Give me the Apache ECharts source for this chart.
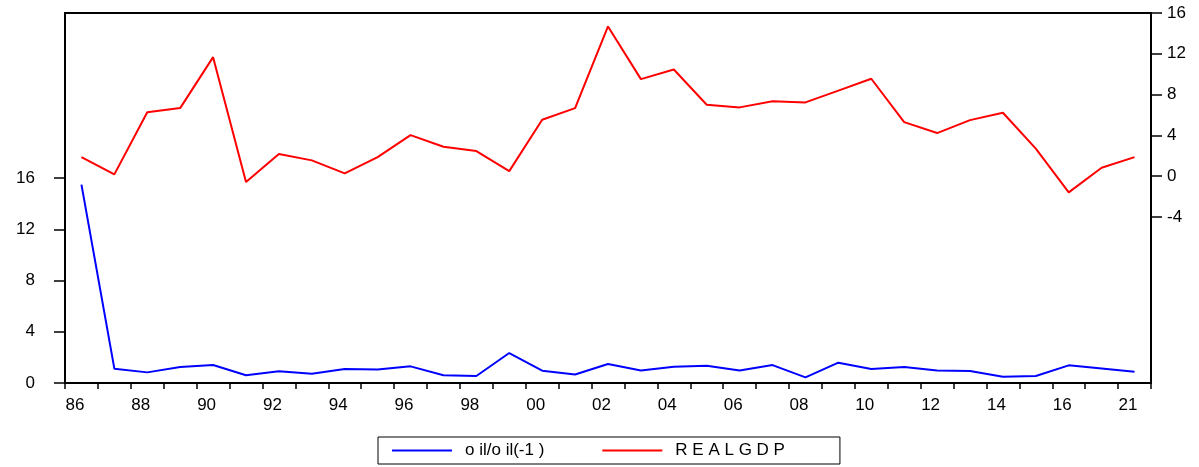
<!DOCTYPE html>
<html>
<head>
<meta charset="utf-8">
<script src="https://cdn.jsdelivr.net/npm/echarts@6/dist/echarts.min.js"></script>
<style>
html,body{margin:0;padding:0;background:#fff;}
#chart{width:1199px;height:467px;}
</style>
</head>
<body>
<div id="chart"></div>
<script>
const categories = ['86','87','88','89','90','91','92','93','94','95','96','97','98','99','00','01','02','03','04','05','06','07','08','09','10','11','12','13','14','15','16','20','21'];
const oilRatio = [15.5,1.12,0.83,1.25,1.4,0.6,0.91,0.73,1.09,1.06,1.3,0.6,0.55,2.34,0.96,0.67,1.48,0.98,1.27,1.35,0.98,1.4,0.44,1.59,1.09,1.25,0.98,0.94,0.49,0.55,1.38,1.14,0.88];
const realGdp = [1.86,0.17,6.27,6.67,11.67,-0.59,2.16,1.54,0.26,1.86,4.02,2.88,2.45,0.49,5.53,6.67,14.68,9.51,10.46,7.0,6.74,7.35,7.23,8.39,9.55,5.29,4.22,5.49,6.21,2.69,-1.6,0.82,1.86];
const leftTicks = [0,4,8,12,16];
const rightTicks = [-4,0,4,8,12,16];
const seriesNames = ['o il/o il(-1 )','R E A L G D P'];

const font = "'Liberation Sans', Arial, sans-serif";
const chart = echarts.init(document.getElementById('chart'), null, {renderer:'canvas'});
chart.setOption({
  animation:false,
  backgroundColor:'#fff',
  grid:{left:65,right:48,top:13,bottom:84,show:true,borderColor:'#000',borderWidth:2,backgroundColor:'transparent'},
  legend:{
    left:378, top:437, orient:'horizontal',
    itemWidth:60, itemHeight:2, icon:'rect', itemGap:58,
    borderColor:'#000', borderWidth:1, padding:[5,55,5,14],
    textStyle:{fontSize:17,color:'#000',fontFamily:font,padding:[0,0,0,8]},
    data:seriesNames
  },
  xAxis:{
    type:'category', data:categories, boundaryGap:true,
    axisLine:{show:true,lineStyle:{color:'#000',width:2}},
    axisTick:{show:true,interval:0,length:6,lineStyle:{color:'#000',width:1.5}},
    axisLabel:{interval:1,hideOverlap:false,margin:14,fontSize:17,color:'#000',fontFamily:font,padding:[0,13,0,0]},
    splitLine:{show:false}
  },
  yAxis:[
    {
      type:'value', position:'left', min:0, max:28.9,
      axisLine:{show:true,lineStyle:{color:'#000',width:2}},
      axisTick:{show:true,length:11,customValues:leftTicks,lineStyle:{color:'#000',width:1.5}},
      axisLabel:{customValues:leftTicks,margin:30,fontSize:17,color:'#000',fontFamily:font},
      splitLine:{show:false}
    },
    {
      type:'value', position:'right', min:-20.3, max:16,
      axisLine:{show:true,lineStyle:{color:'#000',width:2}},
      axisTick:{show:true,length:11,customValues:rightTicks,lineStyle:{color:'#000',width:1.5}},
      axisLabel:{customValues:rightTicks,margin:16,fontSize:17,color:'#000',fontFamily:font},
      splitLine:{show:false}
    }
  ],
  series:[
    {name:seriesNames[0],type:'line',yAxisIndex:0,data:oilRatio,symbol:'none',lineStyle:{color:'#0000ff',width:2},itemStyle:{color:'#0000ff'}},
    {name:seriesNames[1],type:'line',yAxisIndex:1,data:realGdp,symbol:'none',lineStyle:{color:'#ff0000',width:2},itemStyle:{color:'#ff0000'}}
  ]
});
</script>
</body>
</html>
